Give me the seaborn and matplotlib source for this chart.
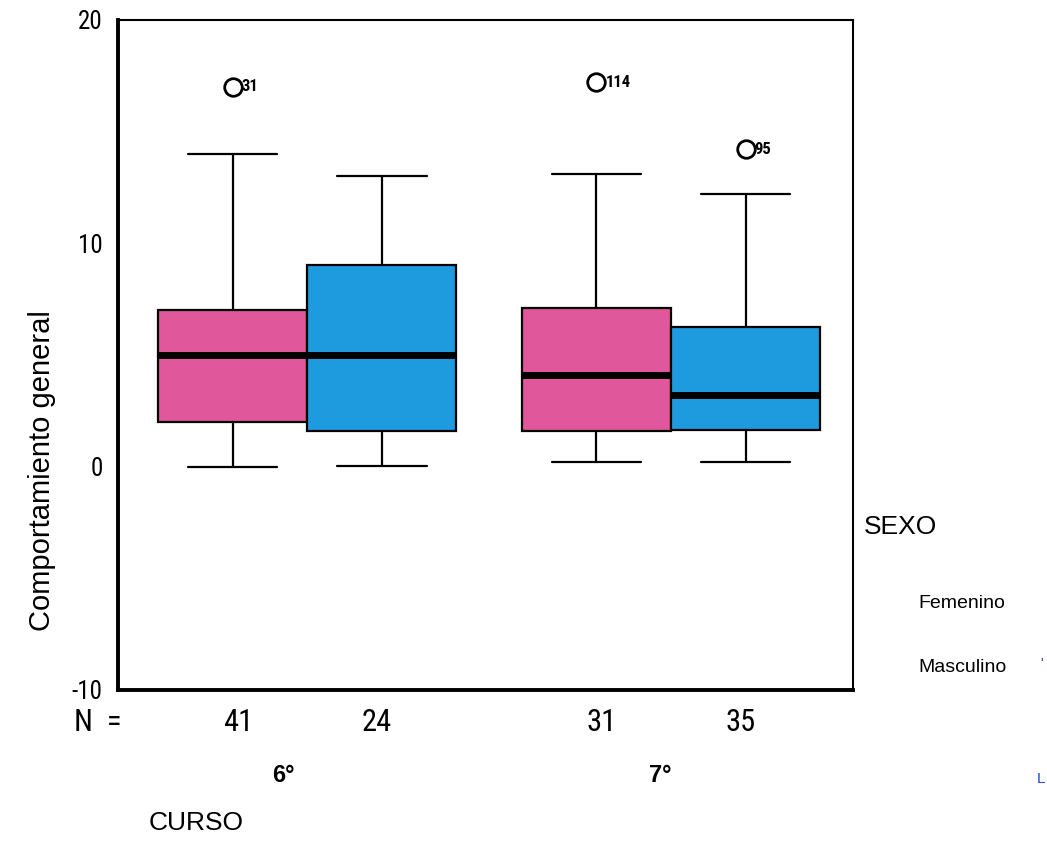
import numpy as np
import pandas as pd
import matplotlib
matplotlib.use("Agg")
import matplotlib.pyplot as plt
from matplotlib import font_manager
import seaborn as sns

# ---- data ----
cursos = ["6°", "7°"]
sexos = ["Femenino", "Masculino"]
n_counts = [41, 24, 31, 35]
# five-number summaries per box (min whisker, Q1, median, Q3, max whisker)
whisk_low = [0.0, 0.05, 0.2, 0.22]
q1 = [2.0, 1.6, 1.6, 1.65]
median = [5.0, 5.0, 4.1, 3.2]
q3 = [7.0, 9.05, 7.1, 6.27]
whisk_high = [14.0, 13.0, 13.1, 12.2]
# outliers
out_curso = ["6°", "7°", "7°"]
out_sexo = ["Femenino", "Femenino", "Masculino"]
out_value = [17.0, 17.2, 14.2]
out_label = ["31", "114", "95"]
yticks = [-10, 0, 10, 20]

pink = "#E0579B"
blue = "#1E9BDF"

rows = []
i = 0
for c in cursos:
    for s in sexos:
        for v in (whisk_low[i], q1[i], median[i], q3[i], whisk_high[i]):
            rows.append({"CURSO": c, "SEXO": s, "val": v})
        i += 1
df = pd.DataFrame(rows)


def pick(cands):
    for c in cands:
        try:
            font_manager.findfont(font_manager.FontProperties(family=c), fallback_to_default=False)
            return c
        except Exception:
            pass
    return "DejaVu Sans"


narrow = pick(["Liberation Sans Narrow", "Roboto Condensed", "Open Sans Condensed", "Liberation Sans"])
sans = ["Liberation Sans", "DejaVu Sans"]
narrowfam = [narrow, "DejaVu Sans"]

sns.set_theme(style="white")
plt.rcParams["font.family"] = sans
plt.rcParams["text.color"] = "black"

fig = plt.figure(figsize=(10.47, 8.64), dpi=100)
ax = fig.add_axes([0.1127, 0.2014, 0.7020, 0.7755])

sns.boxplot(data=df, x="CURSO", y="val", hue="SEXO", order=cursos, hue_order=sexos,
            palette=[pink, blue], whis=np.inf, width=0.82, gap=0, dodge=True,
            linewidth=1.6, linecolor="black", saturation=1, ax=ax,
            medianprops={"linewidth": 5, "color": "black"},
            whiskerprops={"linewidth": 1.6}, capprops={"linewidth": 1.6},
            boxprops={"linewidth": 1.6}, legend=False)

# caps about 0.6 of the box width
for ln in ax.lines:
    xd = np.asarray(ln.get_xdata(), dtype=float)
    yd = np.asarray(ln.get_ydata(), dtype=float)
    if len(xd) == 2 and yd[0] == yd[1] and abs(xd[1] - xd[0]) < 0.3 and ln.get_linewidth() < 3:
        cx = xd.mean()
        half = 0.41 * 0.6 / 2
        ln.set_xdata([cx - half, cx + half])

# outliers
off = {"Femenino": -0.205, "Masculino": 0.205}
ox = [cursos.index(c) + off[s] for c, s in zip(out_curso, out_sexo)]
sns.scatterplot(x=ox, y=out_value, ax=ax, marker="o", s=160, facecolor="white",
                edgecolor="black", linewidth=2.0, zorder=5)
for x, y, lab in zip(ox, out_value, out_label):
    ax.text(x + 0.025, y, lab, fontsize=12, va="center", ha="left", color="black",
            family=narrowfam, fontweight="bold")

ax.set_xlim(-0.52, 1.50)
ax.set_ylim(-10, 20)
ax.set_yticks(yticks)
ax.set_yticklabels([str(t) for t in yticks], fontsize=18, family=narrowfam, color="black")
ax.set_xticks([0, 1])
ax.set_xticklabels(["", ""])
ax.tick_params(axis="y", length=4, width=3, direction="out", color="black", pad=7)
ax.tick_params(axis="x", length=4, width=4, direction="out", color="black")
ax.set_xlabel("")
ax.set_ylabel("")
for side in ["left", "bottom"]:
    ax.spines[side].set_linewidth(2.8)
    ax.spines[side].set_color("black")
for side in ["top", "right"]:
    ax.spines[side].set_linewidth(1.5)
    ax.spines[side].set_color("black")

# N = row and group labels
trans = ax.get_xaxis_transform()
ax.text(-0.64, -0.048, "N  =", transform=trans, fontsize=22, ha="left", va="center",
        family=narrowfam, color="black")
npos = [-0.19, 0.19, 0.81, 1.19]
for x, n in zip(npos, n_counts):
    ax.text(x, -0.048, str(n), transform=trans, fontsize=22, ha="center", va="center",
            family=narrowfam, color="black")
ax.text(-0.065, -0.127, cursos[0], transform=trans, fontsize=17, fontweight="bold",
        ha="center", va="center", color="black")
ax.text(0.97, -0.127, cursos[1], transform=trans, fontsize=17, fontweight="bold",
        ha="center", va="center", color="black")

fig.text(0.040, 0.455, "Comportamiento general", rotation=90, fontsize=21,
         ha="center", va="center", color="black")
fig.text(0.142, 0.048, "CURSO", fontsize=19, ha="left", va="center", color="black")
fig.text(0.825, 0.390, "SEXO", fontsize=19, ha="left", va="center", color="black")
fig.text(0.877, 0.301, "Femenino", fontsize=14, ha="left", va="center", color="black")
fig.text(0.877, 0.228, "Masculino", fontsize=14, ha="left", va="center", color="black")
fig.text(0.994, 0.231, "'", fontsize=10, ha="left", va="center", color="#2244AA")
fig.text(0.990, 0.098, "L", fontsize=11, ha="left", va="center", color="#2244CC")

fig.savefig("out.png", dpi=100, facecolor="white")
